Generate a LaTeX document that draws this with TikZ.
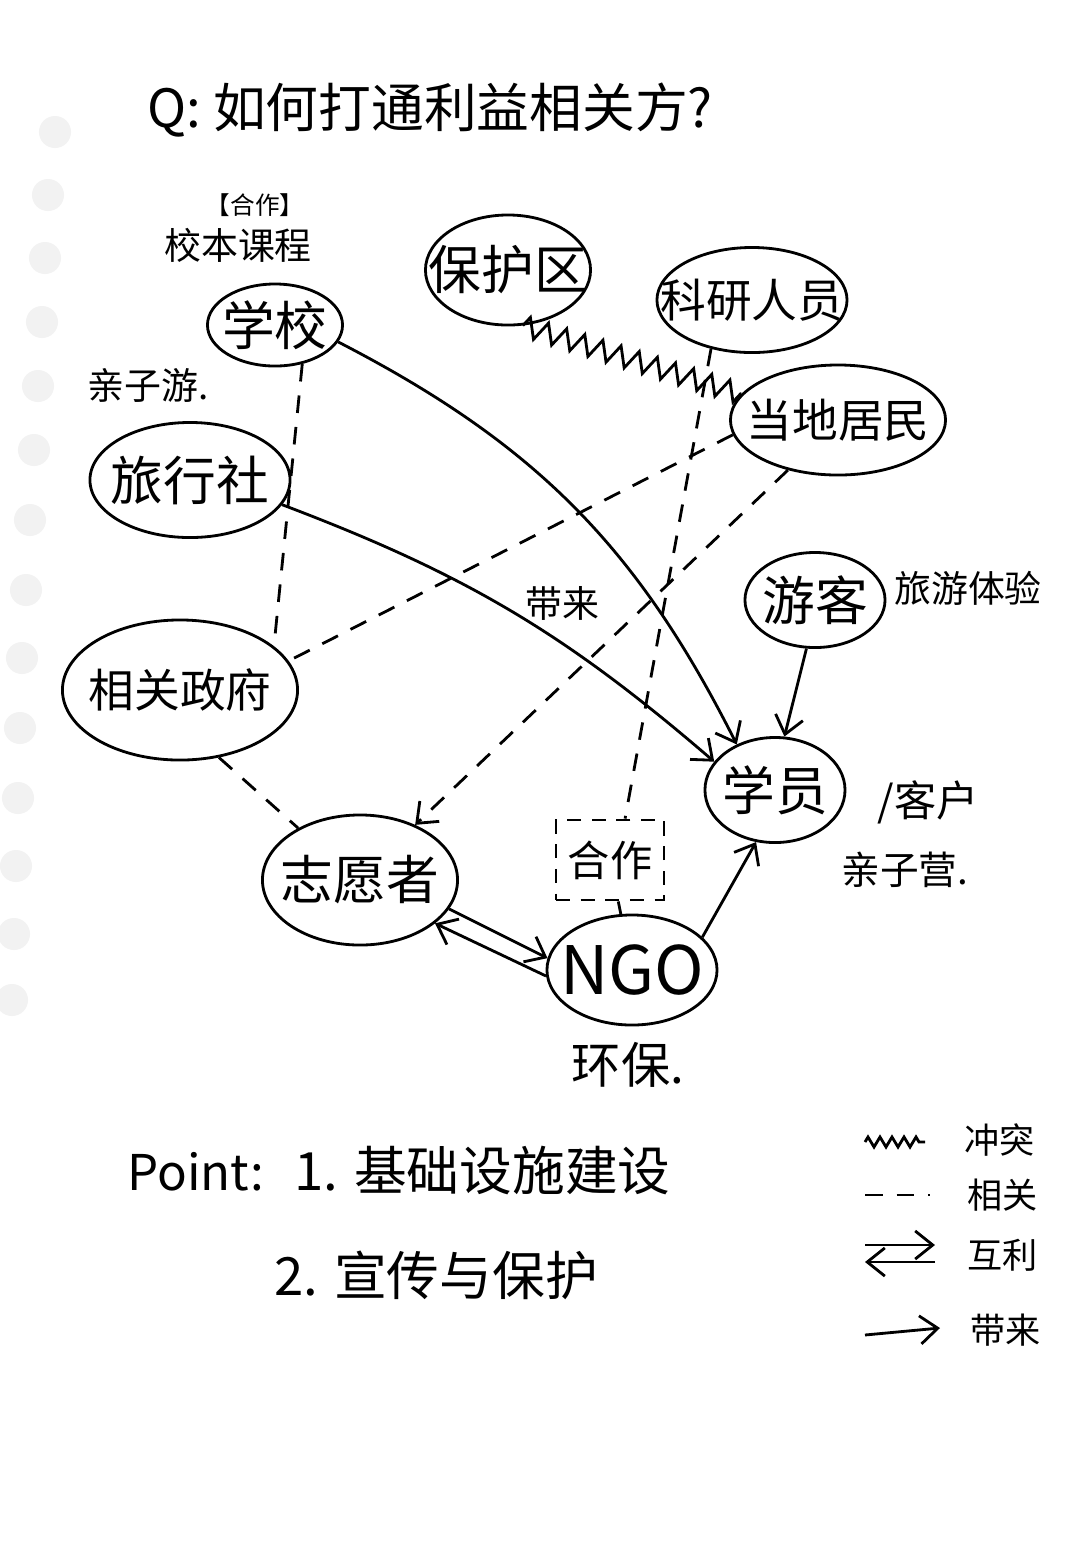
\documentclass[tikz,border=0pt]{standalone}
\usepackage{fontspec}
\setmainfont{Noto Sans CJK SC}
\usetikzlibrary{shapes.geometric,decorations.pathmorphing,arrows.meta}

\tikzset{
  party/.style={ellipse, draw, thick, inner sep=0pt},
  ptext/.style={font=\fontsize{15}{18}\selectfont},
  ptextsmall/.style={font=\fontsize{13}{16}\selectfont},
  note/.style={font=\fontsize{10.5}{12}\selectfont},
  legend/.style={font=\fontsize{10}{12}\selectfont, anchor=west},
  rel/.style={thick, dash pattern=on 5pt off 4pt},
  bring/.style={thick, ->},
  clash/.style={thick, decorate, decoration={zigzag, segment length=0.19cm, amplitude=0.1cm}},
}

\begin{document}
\begin{tikzpicture}[x=0.01cm, y=-0.01cm, >={Straight Barb[length=5pt,width=8pt]}]
  \useasboundingbox (0,0) rectangle (1080,1544);
  \fill[white] (0,0) rectangle (1080,1544);

  % holes of the notebook page
  \foreach \x/\y in {55/132, 48/195, 45/258, 42/322, 38/386, 34/450, 30/520, 26/590, 22/658, 20/728, 18/798, 16/866, 14/934, 12/1000}
    \fill[gray!10] (\x,\y) circle (0.16cm);

  % question
  \node[font=\fontsize{15}{18}\selectfont, anchor=west] (title) at (135,110) {Q: 如何打通利益相关方?};

  % parties
  \node[party, minimum width=1.35cm, minimum height=0.82cm, label={[ptext]center:学校}] (school) at (275,325) {};
  \node[party, minimum width=2.0cm, minimum height=1.15cm, label={[ptext]center:旅行社}] (travel) at (190,480) {};
  \node[party, minimum width=1.65cm, minimum height=1.1cm, label={[ptext]center:保护区}] (reserve) at (508,270) {};
  \node[party, minimum width=1.9cm, minimum height=1.05cm, label={[ptextsmall]center:科研人员}] (sci) at (752,300) {};
  \node[party, minimum width=2.15cm, minimum height=1.1cm, label={[ptextsmall]center:当地居民}] (res) at (838,420) {};
  \node[party, minimum width=1.4cm, minimum height=0.95cm, label={[ptext]center:游客}] (tour) at (815,600) {};
  \node[party, minimum width=2.35cm, minimum height=1.4cm, label={[ptextsmall]center:相关政府}] (gov) at (180,690) {};
  \node[party, minimum width=1.4cm, minimum height=1.05cm, label={[ptext]center:学员}] (stu) at (775,790) {};
  \node[party, minimum width=1.95cm, minimum height=1.3cm, label={[ptext]center:志愿者}] (vol) at (360,880) {};
  \node[party, minimum width=1.7cm, minimum height=1.1cm, label={[font=\fontsize{19}{22}\selectfont]center:NGO}] (ngo) at (632,970) {};
  \node[draw, thick, dash pattern=on 4pt off 3pt, minimum width=0.9cm, minimum height=0.8cm, font=\fontsize{12}{14}\selectfont] (coop) at (610,860) {合作};

  % notes
  \node[font=\fontsize{7}{8}\selectfont] (coopnote) at (255,205) {【合作】};
  \node[note] (course) at (238,245) {校本课程};
  \node[note] (familytrip) at (148,385) {亲子游.};
  \node[note] (experience) at (968,588) {旅游体验};
  \node[font=\fontsize{12}{14}\selectfont] (client) at (928,802) {/客户};
  \node[font=\fontsize{11}{13}\selectfont] (camp) at (905,870) {亲子营.};
  \node[font=\fontsize{14}{16}\selectfont] (green) at (628,1065) {环保.};
  \node[note] (bringlabel) at (562,603) {带来};

  % links
  \draw[clash] (reserve.-75) -- (res.165);
  \draw[bring] (school.-15) to[bend left=18] (stu.130);
  \draw[bring] (travel.-15) to[bend left=10] (stu.155);
  \draw[rel] (school.-55) -- (gov.25);
  \draw[rel] (res.188) -- (gov.15);
  \draw[rel, ->] (res.-135) -- (vol.45);
  \draw[rel] (sci.-130) -- (coop.70);
  \draw[rel] (gov.-60) -- (vol.140);
  \draw[bring] (tour.-100) -- (stu.80);
  \draw[bring] (ngo.25) -- (stu.-110);
  \draw[bring] (vol.-18) -- (ngo.172);
  \draw[bring] (ngo.184) -- (vol.-30);
  \draw[thick] (coop) -- (ngo);

  % points
  \node[font=\fontsize{14}{17}\selectfont, anchor=west] (point) at (115,1172) {Point:};
  \node[font=\fontsize{15}{18}\selectfont, anchor=west] (point1) at (282,1170) {1. 基础设施建设};
  \node[font=\fontsize{15}{18}\selectfont, anchor=west] (point2) at (262,1275) {2. 宣传与保护};

  % legend
  \coordinate (lz1) at (865,1142);
  \coordinate (lz2) at (925,1142);
  \draw[clash, decoration={segment length=0.12cm, amplitude=0.05cm}] (lz1) -- (lz2);
  \node[legend] (lclash) at (952,1140) {冲突};
  \coordinate (ld1) at (865,1195);
  \coordinate (ld2) at (930,1195);
  \draw[rel] (ld1) -- (ld2);
  \node[legend] (lrel) at (955,1195) {相关};
  \coordinate (lm1) at (865,1245);
  \coordinate (lm2) at (935,1245);
  \coordinate (lm3) at (865,1262);
  \coordinate (lm4) at (935,1262);
  \draw[bring] (lm1) -- (lm2);
  \draw[bring] (lm4) -- (lm3);
  \node[legend] (lmutual) at (955,1255) {互利};
  \coordinate (lb1) at (865,1335);
  \coordinate (lb2) at (940,1328);
  \draw[bring] (lb1) -- (lb2);
  \node[legend] (lbring) at (958,1330) {带来};
\end{tikzpicture}
\end{document}
